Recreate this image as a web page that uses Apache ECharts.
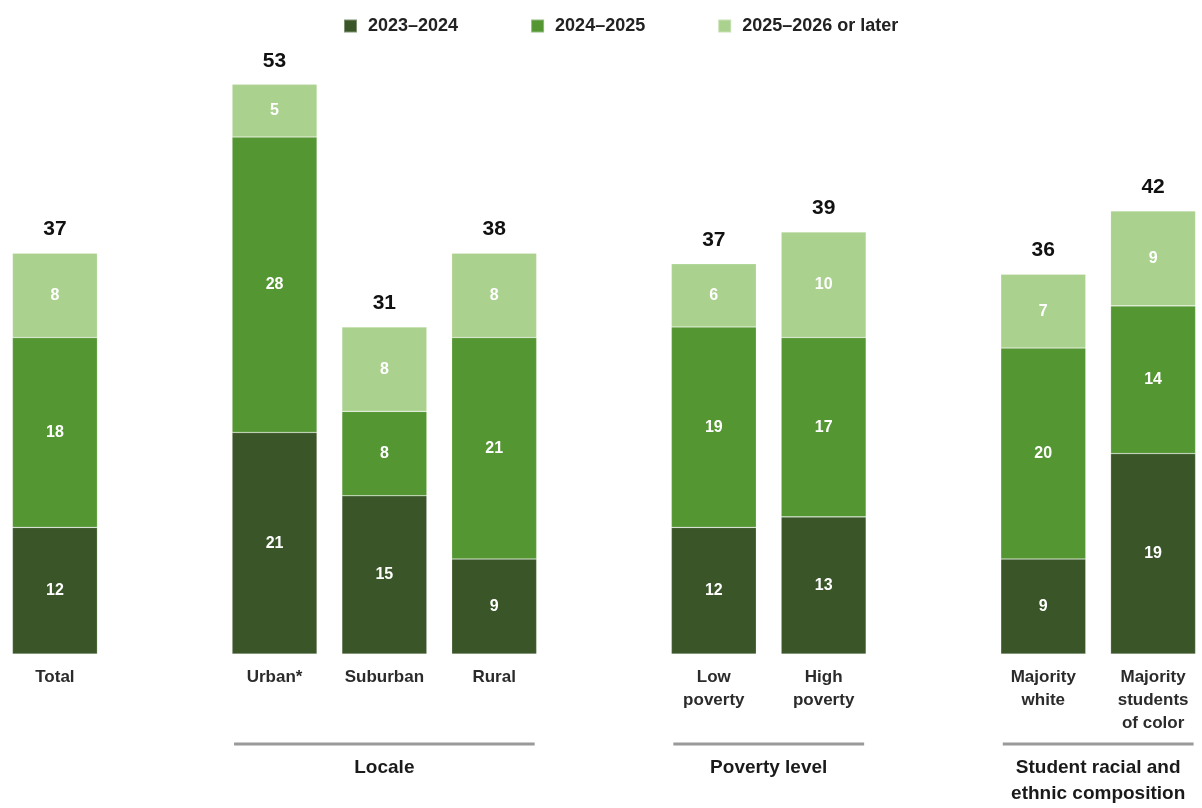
<!DOCTYPE html>
<html>
<head>
<meta charset="utf-8">
<script src="https://cdn.jsdelivr.net/npm/echarts@6/dist/echarts.min.js"></script>
<style>
html,body{margin:0;padding:0;background:#fff;}
#chart{width:1202px;height:808px;}
</style>
</head>
<body>
<div id="chart"></div>
<script>
const categories = ['Total', '', 'Urban*', 'Suburban', 'Rural', ' ', 'Low\npoverty', 'High\npoverty', '  ', 'Majority\nwhite', 'Majority\nstudents\nof color'];
const seriesNames = ['2023\u20132024', '2024\u20132025', '2025\u20132026 or later'];
const y2023 = [12, null, 21, 15, 9, null, 12, 13, null, 9, 19];
const y2024 = [18, null, 28, 8, 21, null, 19, 17, null, 20, 14];
const y2025 = [8, null, 5, 8, 8, null, 6, 10, null, 7, 9];
const totals = [37, null, 53, 31, 38, null, 37, 39, null, 36, 42];
const groupNames = ['Locale', 'Poverty level', 'Student racial and\nethnic composition'];
const groupFirst = ['Urban*', 'Low\npoverty', 'Majority\nwhite'];
const groupLast = ['Rural', 'High\npoverty', 'Majority\nstudents\nof color'];

const colors = ['#3a5628', '#549632', '#abd18e'];
const FONT = '"Liberation Sans", Arial, sans-serif';
const BAR_W = 85;

const stackTops = categories.map((c, i) =>
  totals[i] == null ? null : (y2023[i] || 0) + (y2024[i] || 0) + (y2025[i] || 0));

const chart = echarts.init(document.getElementById('chart'), null, {renderer: 'canvas'});

function barSeries(name, data, color) {
  return {
    name: name,
    type: 'bar',
    stack: 'all',
    barWidth: BAR_W,
    data: data,
    itemStyle: {color: color, borderColor: 'rgba(255,255,255,0.35)', borderWidth: 0.6},
    label: {
      show: true,
      position: 'inside',
      color: '#fff',
      fontFamily: FONT,
      fontWeight: 'bold',
      fontSize: 16,
      formatter: p => (p.value == null ? '' : String(p.value))
    },
    emphasis: {disabled: true}
  };
}

chart.setOption({
  animation: false,
  legend: {
    data: seriesNames,
    left: 338,
    top: 12,
    icon: 'rect',
    itemWidth: 13,
    itemHeight: 13,
    itemGap: 72,
    textStyle: {fontFamily: FONT, fontSize: 18, fontWeight: 'bold', color: '#222', padding: [0, 0, 0, 6]}
  },
  grid: {left: 0, right: -6, top: 21, bottom: 154, containLabel: false, outerBoundsMode: 'none'},
  xAxis: {
    type: 'category',
    data: categories,
    axisLine: {show: false},
    axisTick: {show: false},
    axisLabel: {
      interval: 0,
      margin: 12,
      fontFamily: FONT,
      fontWeight: 'bold',
      fontSize: 17,
      lineHeight: 23,
      color: '#2b2b2b'
    }
  },
  yAxis: {
    type: 'value',
    min: 0,
    max: 60,
    show: false,
    splitLine: {show: false}
  },
  series: [
    barSeries(seriesNames[0], y2023, colors[0]),
    barSeries(seriesNames[1], y2024, colors[1]),
    barSeries(seriesNames[2], y2025, colors[2]),
    {
      name: 'totals',
      type: 'scatter',
      symbolSize: 0,
      data: stackTops,
      itemStyle: {opacity: 1},
      label: {
        show: true,
        position: 'top',
        distance: 13,
        fontFamily: FONT,
        fontWeight: 'bold',
        fontSize: 21,
        color: '#111',
        opacity: 1,
        formatter: p => (totals[p.dataIndex] == null ? '' : String(totals[p.dataIndex]))
      },
      emphasis: {disabled: true},
      silent: true
    }
  ]
});

// group brackets under category labels
const graphics = [];
groupNames.forEach((g, i) => {
  const x1 = chart.convertToPixel({xAxisIndex: 0}, groupFirst[i]) - BAR_W / 2 + 2;
  const x2 = chart.convertToPixel({xAxisIndex: 0}, groupLast[i]) + BAR_W / 2 - 2;
  graphics.push({
    type: 'line',
    shape: {x1: x1, y1: 744, x2: x2, y2: 744},
    style: {stroke: '#9a9a9a', lineWidth: 3}
  });
  graphics.push({
    type: 'text',
    x: (x1 + x2) / 2,
    y: 755,
    style: {
      text: g,
      textAlign: 'center',
      textVerticalAlign: 'top',
      fontFamily: FONT,
      fontWeight: 'bold',
      fontSize: 19,
      lineHeight: 26,
      fill: '#1a1a1a'
    }
  });
});
chart.setOption({graphic: graphics});
</script>
</body>
</html>
